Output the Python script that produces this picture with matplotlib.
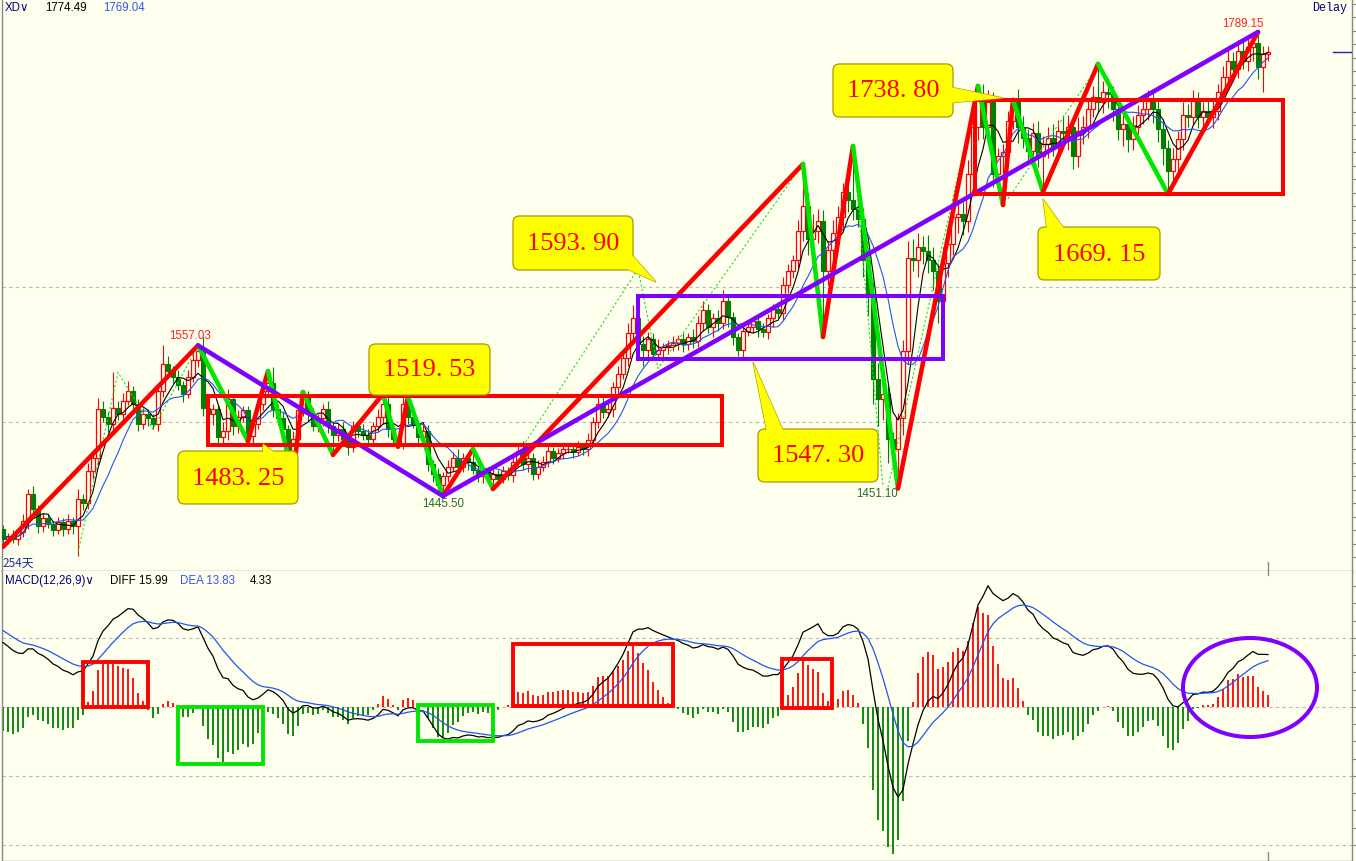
import numpy as np
import pandas as pd
import matplotlib
matplotlib.use('Agg')
import matplotlib.pyplot as plt
import matplotlib.transforms as mtrans
from matplotlib.patches import Rectangle, FancyBboxPatch, Polygon, Ellipse

plt.rcParams['font.family'] = ['DejaVu Sans']

W, H = 1356, 862
BG = '#ffffee'
RED = '#ff0000'
GREEN = '#00e600'
DKGREEN = '#008000'
PURPLE = '#8000ff'
NAVY = '#000080'

# daily closes, 254 sessions
closes = [
    1414, 1416, 1414, 1419, 1427, 1447, 1436, 1423, 1429, 1425, 1420, 1426, 1421, 1427, 1423, 1443, 1440, 1464, 1474, 1510,
    1504, 1499, 1511, 1506, 1516, 1523, 1514, 1499, 1506, 1503, 1499, 1523, 1543, 1538, 1534, 1528, 1521, 1534, 1546, 1553,
    1511, 1506, 1510, 1489, 1494, 1517, 1497, 1504, 1509, 1490, 1499, 1514, 1523, 1529, 1510, 1503, 1495, 1479, 1488, 1509,
    1519, 1506, 1497, 1503, 1510, 1497, 1491, 1495, 1488, 1482, 1497, 1494, 1491, 1488, 1497, 1504, 1514, 1495, 1488, 1484,
    1514, 1504, 1499, 1489, 1494, 1469, 1462, 1454, 1460, 1467, 1474, 1467, 1474, 1471, 1465, 1460, 1464, 1458, 1462, 1458,
    1464, 1461, 1471, 1479, 1469, 1474, 1462, 1467, 1471, 1479, 1474, 1477, 1480, 1480, 1478, 1482, 1480, 1487, 1500, 1514,
    1508, 1510, 1526, 1536, 1548, 1566, 1577, 1558, 1554, 1562, 1551, 1554, 1556, 1557, 1559, 1562, 1558, 1563, 1560, 1574,
    1583, 1571, 1577, 1574, 1590, 1578, 1563, 1554, 1568, 1571, 1575, 1569, 1567, 1577, 1584, 1581, 1602, 1612, 1620, 1642,
    1660, 1636, 1642, 1649, 1612, 1628, 1640, 1652, 1671, 1665, 1658, 1651, 1620, 1594, 1532, 1517, 1521, 1488, 1480, 1503,
    1553, 1622, 1620, 1630, 1627, 1620, 1612, 1590, 1618, 1632, 1652, 1654, 1649, 1684, 1719, 1741, 1719, 1737, 1684, 1697,
    1700, 1723, 1737, 1719, 1711, 1701, 1714, 1697, 1706, 1711, 1705, 1716, 1714, 1719, 1697, 1716, 1719, 1732, 1741, 1737,
    1745, 1743, 1732, 1717, 1721, 1710, 1719, 1728, 1732, 1738, 1732, 1717, 1703, 1686, 1695, 1710, 1728, 1726, 1739, 1726,
    1731, 1726, 1731, 1745, 1756, 1768, 1762, 1775, 1768, 1778, 1781, 1763, 1773, 1774.49,
]
first_open = 1421.0

wick_up = [
    3, 2, 4, 3, 5, 4, 6, 3, 4, 3, 2, 4, 3, 5, 3, 8, 4, 6, 5, 8,
    6, 4, 26, 5, 6, 8, 4, 3, 5, 4, 3, 6, 14, 6, 4, 5, 3, 5, 6, 4,
    10, 5, 4, 3, 6, 8, 4, 5, 3, 3, 4, 5, 6, 9, 12, 4, 5, 3, 6, 4,
    3, 4, 5, 3, 4, 6, 3, 4, 5, 3, 4, 3, 5, 4, 3, 6, 7, 5, 4, 3,
    5, 4, 4, 3, 5, 4, 3, 4, 3, 5, 4, 6, 3, 4, 5, 3, 4, 3, 4, 3,
    4, 3, 5, 4, 7, 4, 3, 5, 4, 6, 3, 4, 3, 4, 3, 4, 3, 5, 4, 5,
    6, 5, 4, 6, 5, 8, 10, 6, 6, 5, 4, 8, 3, 4, 5, 3, 4, 3, 6, 5,
    7, 5, 4, 6, 8, 5, 4, 3, 5, 4, 3, 4, 5, 3, 4, 5, 6, 5, 4, 8,
    8, 10, 12, 9, 8, 6, 10, 8, 6, 12, 8, 10, 8, 6, 10, 12, 8, 6, 5, 4,
    8, 12, 14, 10, 8, 12, 10, 6, 12, 15, 10, 8, 9, 10, 12, 8, 10, 9, 8, 6,
    6, 8, 2, 10, 8, 6, 8, 9, 6, 8, 10, 8, 12, 9, 8, 10, 8, 6, 8, 6,
    8, 10, 6, 8, 9, 6, 8, 7, 6, 8, 6, 7, 8, 6, 8, 6, 9, 8, 7, 6,
    6, 8, 7, 6, 8, 10, 6, 8, 7, 6, 8, 8, 6, 4,
]
wick_dn = [
    3, 4, 3, 5, 4, 6, 3, 5, 4, 3, 4, 3, 5, 4, 6, 22, 5, 4, 6, 5,
    4, 6, 5, 4, 5, 3, 6, 5, 4, 6, 4, 5, 4, 3, 5, 4, 6, 3, 4, 5,
    6, 5, 8, 6, 5, 7, 6, 5, 4, 5, 6, 4, 5, 3, 6, 5, 4, 8, 5, 4,
    4, 5, 3, 4, 6, 5, 4, 5, 3, 6, 4, 5, 4, 3, 5, 4, 5, 6, 4, 5,
    4, 5, 3, 6, 4, 5, 6, 4, 5, 4, 3, 5, 4, 6, 3, 4, 5, 3, 4, 5,
    3, 4, 5, 3, 4, 6, 5, 4, 3, 4, 5, 3, 4, 3, 4, 3, 4, 5, 3, 4,
    5, 4, 6, 5, 4, 6, 8, 10, 12, 6, 5, 4, 6, 5, 4, 5, 6, 4, 5, 4,
    6, 5, 8, 6, 5, 7, 6, 5, 8, 4, 5, 6, 4, 5, 6, 4, 5, 6, 5, 6,
    8, 12, 10, 9, 8, 10, 12, 8, 10, 9, 8, 6, 12, 15, 18, 20, 15, 18, 14, 10,
    12, 10, 8, 12, 10, 9, 14, 16, 12, 10, 8, 12, 10, 8, 12, 10, 9, 12, 10, 8,
    8, 10, 6, 12, 8, 10, 9, 8, 12, 10, 8, 6, 10, 12, 9, 8, 10, 8, 6, 8,
    8, 10, 9, 8, 12, 10, 8, 9, 7, 8, 10, 9, 12, 8, 10, 9, 8, 7, 6, 8,
    7, 6, 8, 7, 6, 8, 9, 7, 6, 8, 10, 9, 18, 5,
]

# swing points (session index, price): alternating low / high
pivots = [(0, 1407.80), (39, 1557.03), (49, 1486.0), (53, 1538.0), (58, 1459.6), (60, 1522.5),
          (66, 1476.0), (76, 1521.0), (79, 1482.0), (81, 1519.0), (88, 1445.50), (94, 1480.3),
          (98, 1450.7), (160, 1691.4), (164, 1563.3), (170, 1704.7), (179, 1451.10), (195, 1749.2),
          (200, 1661.0), (202, 1738.8), (208, 1670.7), (219, 1765.5), (233, 1669.2), (251, 1789.15)]
trend_line = [(39, 1557.03), (88, 1445.50), (251, 1789.15)]
zig_dashed = [
    [(15, 1404), (23, 1537), (30, 1495), (39, 1557.03)],
    [(65, 1519), (76, 1521)],
    [(104, 1482.6), (127, 1613.6), (131, 1540), (160, 1691.4)],
    [(170, 1704.7), (176, 1452)],
    [(177, 1452), (195, 1749.2)],
    [(201, 1665.5), (219, 1764)],
]

# consolidation boxes: i0, i1, low, high, colour
price_boxes = [(41, 143.8, 1483.25, 1519.53, RED),
               (127, 188, 1547.30, 1593.90, PURPLE),
               (194.4, 256, 1669.15, 1738.80, RED)]

# callouts: text, i0, i1, p0, p1, pointer (two base points + tip)
callouts = [
    ('1593. 90', 102, 126, 1612.9, 1652.9, [(125.3, 1626.0), (124.0, 1615.0), (130.6, 1604.0)]),
    ('1519. 53', 73.2, 97.4, 1520.3, 1558.1, None),
    ('1483. 25', 35, 59, 1439.6, 1478.8, [(52, 1476.5), (54.8, 1476.5), (52, 1484.0)]),
    ('1547. 30', 151, 175, 1455.9, 1495.1, [(152.8, 1492.5), (156.2, 1492.5), (150, 1544.7)]),
    ('1738. 80', 166, 190, 1726.2, 1765.5, [(189.3, 1748.5), (189.3, 1736.6), (200, 1740.3)]),
    ('1669. 15', 207, 231.4, 1605.5, 1644.7, [(208.8, 1642.5), (212.4, 1642.5), (208, 1665.5)]),
]

peak_labels = [('1557.03', 37.4, 1564.7, '#ff2020'), ('1445.50', 88, 1440.3, '#2e6b2e'),
               ('1451.10', 174.8, 1447.7, '#2e6b2e'), ('1789.15', 248, 1795.8, '#ff2020')]

macd_seed = (1412.0, 1392.0, 23.0)  # ema12, ema26, dea before first session
macd_boxes = [(16, 29, 0, 13.0, RED), (35, 52, -16.5, 0, GREEN), (83, 98, -9.9, 0.6, GREEN),
              (102, 134, 0.3, 18.3, RED), (155.8, 165.8, -0.3, 13.9, RED)]
macd_ring = (249.4, 5.65, 26.8, 28.7)

# ---------------------------------------------------------------
n = len(closes)
idx = np.arange(n)
c = np.array(closes, dtype=float)
o = np.r_[first_open, c[:-1]]
body_lo = np.minimum(o, c)
body_hi = np.maximum(o, c)
hi = body_hi + np.array(wick_up)
lo = body_lo - np.array(wick_dn)
for k, p in pivots:
    if p >= body_hi[k]:
        hi[k] = p
    else:
        lo[k] = p

fig = plt.figure(figsize=(W / 100, H / 100), dpi=100, facecolor=BG)
ax = fig.add_axes([2 / W, 1 - 572 / H, 1350 / W, 572 / H], facecolor=BG)
ax2 = fig.add_axes([2 / W, 0, 1350 / W, 290 / H], facecolor=BG)

for a in (ax, ax2):
    a.set_xlim(-0.2, 269.8)
    for s in a.spines.values():
        s.set_color('#888888')
        s.set_linewidth(1.0)
    a.spines['top'].set_visible(False)
    a.yaxis.tick_right()
    a.tick_params(axis='y', direction='out', length=3, color='#888888', labelright=False)
    a.set_xticks([])

ax.set_ylim(1389.95, 1813.6)
ax2.set_ylim(-44.64, 39.42)
ax.set_yticks(np.arange(1400, 1811, 10))
ax2.set_yticks(np.arange(-40, 40, 5))

for y in (1500, 1600):
    ax.axhline(y, color='#b8b8b8', lw=0.8, ls=(0, (3, 3)), zorder=1)
for y in (20, 0, -20, -40):
    ax2.axhline(y, color='#b8b8b8', lw=0.8, ls=(0, (3, 3)), zorder=1)

# candles
up = c >= o
h = np.maximum(body_hi - body_lo, 0.6)
ax.vlines(idx[~up], lo[~up], hi[~up], color=DKGREEN, lw=0.8, zorder=2)
ax.vlines(idx[up], body_hi[up], hi[up], color=RED, lw=0.8, zorder=2)
ax.vlines(idx[up], lo[up], body_lo[up], color=RED, lw=0.8, zorder=2)
ax.bar(idx[up], h[up], bottom=body_lo[up], width=0.72, facecolor=BG, edgecolor=RED, linewidth=0.9, zorder=3)
ax.bar(idx[~up], h[~up], bottom=body_lo[~up], width=0.72, color=DKGREEN, edgecolor=DKGREEN, linewidth=0.8, zorder=3)

ma5 = pd.Series(c).rolling(5, min_periods=1).mean()
ma10 = pd.Series(c).rolling(10, min_periods=1).mean()
ax.plot(idx, ma5, color='black', lw=0.8, zorder=4)
ax.plot(idx, ma10, color='#2255ee', lw=0.8, zorder=4)

for seg in zig_dashed:
    xs, ys = zip(*seg)
    ax.plot(xs, ys, color='#22dd22', lw=0.8, ls=(0, (2, 2)), zorder=4)

for (i0, p0), (i1, p1) in zip(pivots[:-1], pivots[1:]):
    ax.plot([i0, i1], [p0, p1], color=RED if p1 > p0 else GREEN, lw=3.3,
            solid_capstyle='round', zorder=6)
xs, ys = zip(*trend_line)
ax.plot(xs, ys, color=PURPLE, lw=3.3, solid_capstyle='round', zorder=6)

for i0, i1, p0, p1, col in price_boxes:
    ax.add_patch(Rectangle((i0, p0), i1 - i0, p1 - p0, fill=False, edgecolor=col, lw=2.9, zorder=6))

asp = 5 / 1.3502
for txt, i0, i1, p0, p1, wedge in callouts:
    if wedge:
        ax.add_patch(Polygon(wedge, closed=True, facecolor='#ffff00', edgecolor='#a89a00', lw=0.9, zorder=10))
    ax.add_patch(FancyBboxPatch((i0, p0), i1 - i0, p1 - p0, boxstyle='round,pad=0,rounding_size=1.3',
                                mutation_aspect=asp, facecolor='#ffff00', edgecolor='#a89a00',
                                lw=0.9, zorder=11))
    if wedge:
        ax.add_patch(Polygon(wedge, closed=True, facecolor='#ffff00', edgecolor='none', zorder=12))
    ax.text((i0 + i1) / 2, (p0 + p1) / 2, txt, ha='center', va='center', color=RED,
            fontsize=19, family='Liberation Serif', zorder=13)

for txt, i, p, col in peak_labels:
    ax.text(i, p, txt, ha='center', va='center', color=col, fontsize=8.3,
            family='Liberation Sans', zorder=7)

# current price marker and last session tick
ax.plot([266, 269.8], [c[-1], c[-1]], color='#1a2a9a', lw=1.0, zorder=5)
blend = mtrans.blended_transform_factory(ax.transData, ax.transAxes)
ax.plot([n - 1, n - 1], [0, 0.015], color='#888888', lw=1, transform=blend)
blend2 = mtrans.blended_transform_factory(ax2.transData, ax2.transAxes)
ax2.plot([n - 1, n - 1], [0, 0.03], color='#888888', lw=1, transform=blend2)
ax2.plot([n - 1, n - 1], [0.985, 1.0], color='#888888', lw=1, transform=blend2)

# MACD
e12, e26, dea = macd_seed
diff_v, dea_v = [], []
for v in c:
    e12 += (v - e12) * 2 / 13
    e26 += (v - e26) * 2 / 27
    d = e12 - e26
    dea += (d - dea) * 2 / 10
    diff_v.append(d)
    dea_v.append(dea)
diff_v = np.array(diff_v)
dea_v = np.array(dea_v)
hist = 2 * (diff_v - dea_v)
pos = hist >= 0
ax2.vlines(idx[pos], 0, hist[pos], color=RED, lw=1.3, zorder=2)
ax2.vlines(idx[~pos], hist[~pos], 0, color=DKGREEN, lw=1.3, zorder=2)
ax2.plot(idx, diff_v, color='black', lw=0.9, zorder=3)
ax2.plot(idx, dea_v, color='#2255ee', lw=0.9, zorder=3)

for i0, i1, v0, v1, col in macd_boxes:
    ax2.add_patch(Rectangle((i0, v0), i1 - i0, v1 - v0, fill=False, edgecolor=col, lw=2.8, zorder=5))
cx, cy, ew, eh = macd_ring
ax2.add_patch(Ellipse((cx, cy), ew, eh, fill=False, edgecolor=PURPLE, lw=2.9, zorder=5))


def ftext(px, py, s, col, **kw):
    fig.text(px / W, 1 - py / H, s, color=col, va='center', ha='left', **kw)


hdr = dict(fontsize=8.3, family='Liberation Sans')
ftext(5, 8, 'XD\u2228', NAVY, fontsize=8.3, family=['Liberation Sans', 'DejaVu Sans'])
ftext(45, 8, '1774.49', 'black', **hdr)
ftext(103, 8, '1769.04', '#3355ee', **hdr)
ftext(1312, 8, 'Delay', NAVY, fontsize=8.5, family='Liberation Mono')
ftext(2, 563, '254天', '#203090', fontsize=8.5, family=['Noto Sans CJK SC', 'DejaVu Sans'])
ftext(5, 581, 'MACD(12,26,9)\u2228', NAVY, fontsize=8.3, family=['Liberation Sans', 'DejaVu Sans'])
ftext(110, 581, 'DIFF 15.99', 'black', **hdr)
ftext(180, 581, 'DEA 13.83', '#3355ee', **hdr)
ftext(250, 581, '4.33', 'black', **hdr)

fig.savefig('out.png', dpi=100, facecolor=BG)
